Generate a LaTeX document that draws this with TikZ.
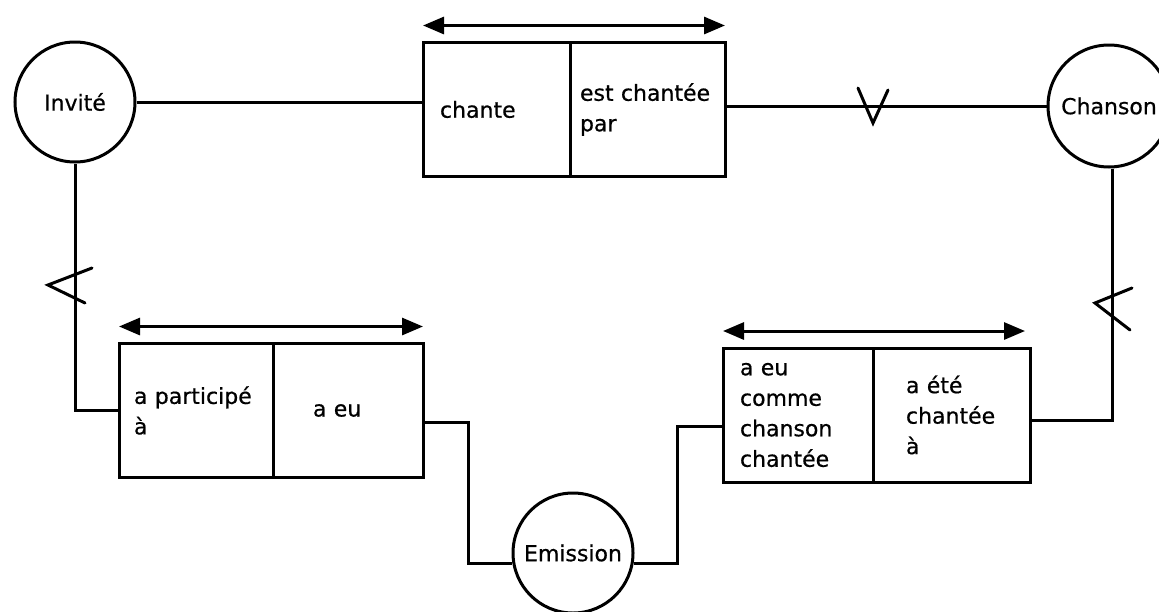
\documentclass[tikz,border=0pt]{standalone}
\usepackage{fontspec}
\setmainfont{DejaVu Sans}[FakeBold=0.6]
\usetikzlibrary{arrows.meta,positioning}
\hyphenpenalty=10000
\tikzset{
  entity/.style={draw,circle,line width=3pt,minimum size=120pt,inner sep=0pt},
  cell/.style={draw,line width=3pt,outer sep=0pt,minimum height=134pt,align=left},
  link/.style={line width=3pt},
  card/.style={line width=3pt,line cap=round},
  span/.style={line width=3pt,{Triangle[length=21pt,width=17pt]}-{Triangle[length=21pt,width=17pt]}}
}
\begin{document}
\begin{tikzpicture}[x=1pt,y=-1pt,font=\fontsize{22}{30.5}\selectfont]
 \useasboundingbox (0,0) rectangle (1159,611);
 \node[entity] (invite) at (75,102) {Invité};
 \node[entity,minimum size=122pt] (chanson) at (1109,106) {Chanson};
 \node[entity] (emission) at (573,553) {Emission};
 % relations
 \node[cell,text width=113pt,inner xsep=17pt] (chL) at (496.5,109.5) {chante};
 \node[cell,text width=135pt,inner xsep=10pt,right=0pt of chL] (chR) {est chantée\\par};
 \node[cell,text width=124pt,inner xsep=15pt] (paL) at (196,410.5) {a participé\\à};
 \node[cell,text width=70pt,inner xsep=40pt,right=0pt of paL] (paR) {a eu};
 \node[cell,text width=116pt,inner xsep=17pt] (eaL) at (798,415) {a eu\\comme\\chanson\\chantée};
 \node[cell,text width=91pt,inner xsep=33pt,right=0pt of eaL] (eaR) {a été\\chantée\\à};
 \draw[span] ([yshift=17pt]chL.north west) -- ([yshift=17pt]chR.north east);
 \draw[span] ([yshift=17pt]paL.north west) -- ([yshift=17pt]paR.north east);
 \draw[span] ([yshift=17pt]eaL.north west) -- ([yshift=17pt,xshift=-5pt]eaR.north east);
 % links
 \draw[link] (invite.east) -- (invite.east -| chL.west);
 \draw[link] (chR.east |- chanson.west) -- (chanson.west);
 \draw[link] (invite.south) |- (paL.west);
 \draw[link] ([yshift=-12pt]paR.east) -- ++(45,0) |- (emission.190);
 \draw[link] (emission.350) -- ++(44,0) |- ([yshift=-11pt]eaL.west);
 \draw[link] ([xshift=3pt]chanson.south) |- ([yshift=-5pt]eaR.east);
 % cardinalities
 \draw[card] (858,88) -- (873,123) -- (888,90);
 \draw[card] (92,268) -- (48,285) -- (85,303);
 \draw[card] (1132,288) -- (1095,303) -- (1130,330);
\end{tikzpicture}
\end{document}
